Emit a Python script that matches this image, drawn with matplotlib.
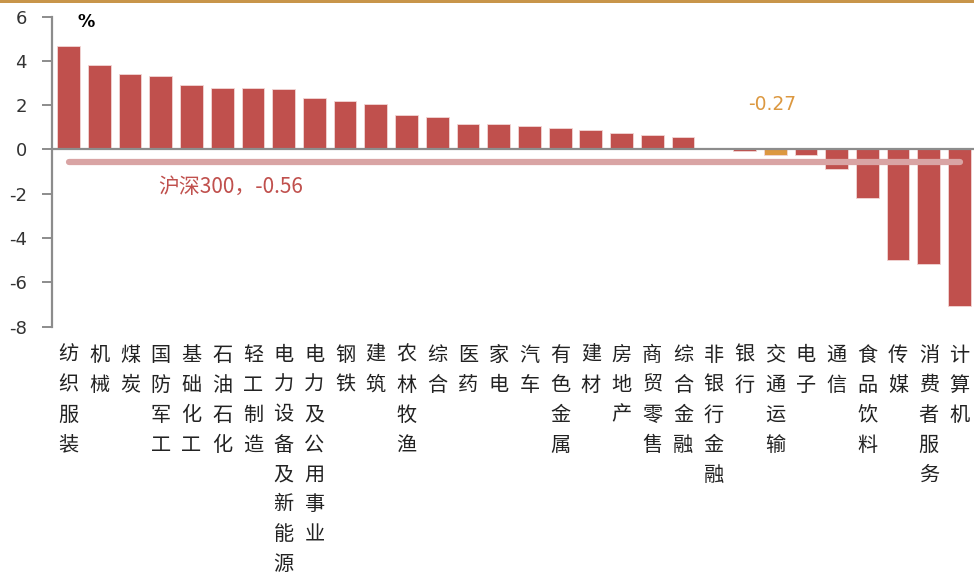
import matplotlib

matplotlib.use("Agg")
import matplotlib.pyplot as plt
from matplotlib.patches import Rectangle

plt.rcParams["font.family"] = ["Noto Sans CJK SC", "DejaVu Sans"]

categories = [
    "纺织服装", "机械", "煤炭", "国防军工", "基础化工", "石油石化", "轻工制造",
    "电力设备及新能源", "电力及公用事业", "钢铁", "建筑", "农林牧渔", "综合", "医药",
    "家电", "汽车", "有色金属", "建材", "房地产", "商贸零售", "综合金融", "非银行金融",
    "银行", "交通运输", "电子", "通信", "食品饮料", "传媒", "消费者服务", "计算机",
]
values = [
    4.65, 3.79, 3.39, 3.30, 2.89, 2.76, 2.76, 2.71, 2.30, 2.17, 2.03, 1.54, 1.45, 1.17,
    1.17, 1.08, 0.95, 0.90, 0.72, 0.63, 0.54, 0.01, -0.08, -0.27, -0.25, -0.90, -2.18,
    -4.97, -5.15, -7.05,
]
highlight = "交通运输"
index_name = "沪深300"
index_value = -0.56
y_ticks = [6, 4, 2, 0, -2, -4, -6, -8]

RED = "#c0504d"
ORANGE = "#dc9840"
PINK = "#d9a4a4"
GREY = "#8c8c8c"

fig = plt.figure(figsize=(9.74, 5.76), dpi=100)
ax = fig.add_axes([52 / 974, 1 - 326.7 / 576, 922 / 974, 310.2 / 576])

n = len(categories)
xs = list(range(n))
colors = [ORANGE if c == highlight else RED for c in categories]
ax.bar(xs, values, width=0.74, color=colors, edgecolor="#f2d6d5", linewidth=0.6, zorder=2)

ax.axhline(0, color=GREY, lw=1.6, zorder=3)
ax.plot([0, n - 1], [index_value, index_value], color=PINK, lw=4.5,
        solid_capstyle="round", zorder=4)

ax.set_xlim(-0.54, n - 1 + 14 / 29.73)
ax.set_ylim(-8, 6)
ax.set_yticks(y_ticks)
ax.set_yticklabels([str(t) for t in y_ticks], fontsize=13, color="#333333",
                   family="DejaVu Sans")
ax.tick_params(axis="y", direction="out", length=7, width=1.4, color=GREY, pad=11)
ax.set_xticks([])

for side in ("top", "right", "bottom"):
    ax.spines[side].set_visible(False)
ax.spines["left"].set_color(GREY)
ax.spines["left"].set_linewidth(1.6)

# vertical category labels, one character per line
for i, name in enumerate(categories):
    ax.text(i, -0.058, "\n".join(name), transform=ax.get_xaxis_transform(),
            ha="center", va="top", fontsize=14.5, linespacing=1.56, color="#222222")

ax.text(0.3, 5.75, "%", fontsize=12.5, fontweight="bold", va="center", ha="left",
        family="DejaVu Sans")

ax.text(2.93, -1.70, f"{index_name}，{index_value}", color=RED, fontsize=15,
        va="center", ha="left")
hi = categories.index(highlight)
ax.text(hi - 0.1, 2.05, f"{values[hi]:.2f}", color=ORANGE, fontsize=13.5,
        va="center", ha="center", family="DejaVu Sans")

# thin gold rule across the top of the figure
fig.patches.append(Rectangle((0, 1 - 2.5 / 576), 1, 2.5 / 576, transform=fig.transFigure,
                             facecolor="#c8954a", edgecolor="none"))

fig.savefig("out.png", dpi=100)
plt.close(fig)
